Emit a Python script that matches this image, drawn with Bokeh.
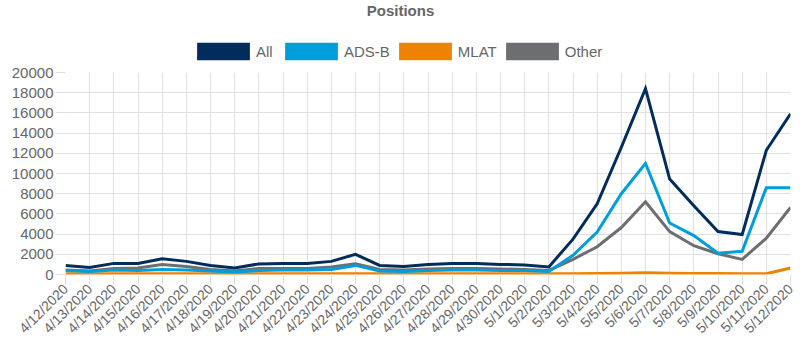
from bokeh.plotting import figure
from bokeh.models import Range1d, FixedTicker, Legend, LegendItem, Label
from bokeh.layouts import column
from bokeh.embed import file_html
from bokeh.resources import INLINE
import math

dates = ["4/12/2020", "4/13/2020", "4/14/2020", "4/15/2020", "4/16/2020", "4/17/2020",
         "4/18/2020", "4/19/2020", "4/20/2020", "4/21/2020", "4/22/2020", "4/23/2020",
         "4/24/2020", "4/25/2020", "4/26/2020", "4/27/2020", "4/28/2020", "4/29/2020",
         "4/30/2020", "5/1/2020", "5/2/2020", "5/3/2020", "5/4/2020", "5/5/2020",
         "5/6/2020", "5/7/2020", "5/8/2020", "5/9/2020", "5/10/2020", "5/11/2020",
         "5/12/2020"]

all_pos = [900, 700, 1100, 1100, 1550, 1300, 900, 650, 1050, 1100, 1100, 1300, 2000, 900,
           800, 1000, 1100, 1100, 1000, 950, 750, 3500, 7000, 12600, 18400, 9450, 6800,
           4250, 3950, 12300, 15900]
adsb = [400, 300, 450, 400, 500, 450, 350, 250, 400, 450, 450, 500, 900, 350,
        300, 400, 450, 450, 400, 400, 300, 1900, 4200, 8000, 11000, 5100, 3850,
        2100, 2300, 8600, 8600]
mlat = [80, 80, 80, 80, 80, 80, 80, 80, 80, 80, 80, 80, 80, 80,
        80, 80, 80, 80, 80, 80, 80, 80, 90, 120, 170, 120, 100,
        90, 80, 80, 650]
other = [450, 350, 600, 650, 1000, 800, 500, 350, 600, 600, 600, 750, 1050, 500,
         450, 550, 600, 600, 550, 500, 400, 1500, 2750, 4650, 7200, 4250, 2850,
         2050, 1500, 3600, 6650]

series_names = ["All", "ADS-B", "MLAT", "Other"]
series_colors = ["#002d5c", "#009fdb", "#ef8200", "#6d6e71"]
y_ticks = [0, 2000, 4000, 6000, 8000, 10000, 12000, 14000, 16000, 18000, 20000]
chart_title = "Positions"

FONT = "Liberation Sans"
GRID = "#e0e0e0"
TXT = "#666666"

xs = list(range(len(dates)))
values = [all_pos, adsb, mlat, other]

# ---------- header: title + legend ----------
header = figure(width=800, height=62, output_backend="svg", toolbar_location=None,
                x_range=Range1d(0, len(dates) - 1), y_range=Range1d(-100000, -90000),
                x_axis_location=None, y_axis_location=None, min_border=0)
header.outline_line_color = None
header.xgrid.visible = False
header.ygrid.visible = False

items = []
for name, vals, col in zip(series_names, values, series_colors):
    # zero-height area: invisible in the plot, gives a filled box in the legend
    r = header.varea(x=xs, y1=vals, y2=vals, fill_color=col)
    items.append(LegendItem(label=name, renderers=[r]))

legend = Legend(items=items, orientation="horizontal", location=(125, 0),
                glyph_width=66, glyph_height=22, label_standoff=0, spacing=2,
                padding=0, margin=0, border_line_color=None, background_fill_alpha=0,
                label_text_font=FONT, label_text_font_size="15px",
                label_text_color=TXT)
header.add_layout(legend, "center")

header.add_layout(Label(x=335, y=52, x_units="screen", y_units="screen",
                        text=chart_title, text_align="center", text_baseline="middle",
                        text_font=FONT, text_font_size="15px", text_font_style="bold",
                        text_color=TXT))

# ---------- main chart ----------
p = figure(width=800, height=292, output_backend="svg", toolbar_location=None,
           x_range=Range1d(0, len(dates) - 1), y_range=Range1d(0, 20000),
           min_border_left=65, min_border_right=10, min_border_bottom=80,
           min_border_top=10)
p.outline_line_color = None

# draw in reverse so "All" is on top
for name, vals, col in reversed(list(zip(series_names, values, series_colors))):
    p.line(xs, vals, line_color=col, line_width=3, line_join="miter")

p.xaxis.ticker = FixedTicker(ticks=xs)
p.xaxis.major_label_overrides = {i: d for i, d in zip(xs, dates)}
p.xaxis.major_label_orientation = math.pi / 4
p.yaxis.ticker = FixedTicker(ticks=y_ticks)

for ax in (p.xaxis, p.yaxis):
    ax.major_label_text_font = FONT
    ax.major_label_text_color = TXT
    ax.major_tick_in = 0
    ax.major_tick_out = 10
    ax.major_tick_line_color = GRID
    ax.minor_tick_line_color = None
    ax.axis_line_color = None
    ax.major_label_standoff = 2
p.xaxis.major_label_text_font_size = "14px"
p.yaxis.major_label_text_font_size = "15px"

p.xgrid.ticker = FixedTicker(ticks=xs)
p.ygrid.ticker = FixedTicker(ticks=y_ticks)
p.xgrid.grid_line_color = GRID
p.ygrid.grid_line_color = GRID

open("out.html", "w").write(file_html(column(header, p, spacing=0), INLINE))
